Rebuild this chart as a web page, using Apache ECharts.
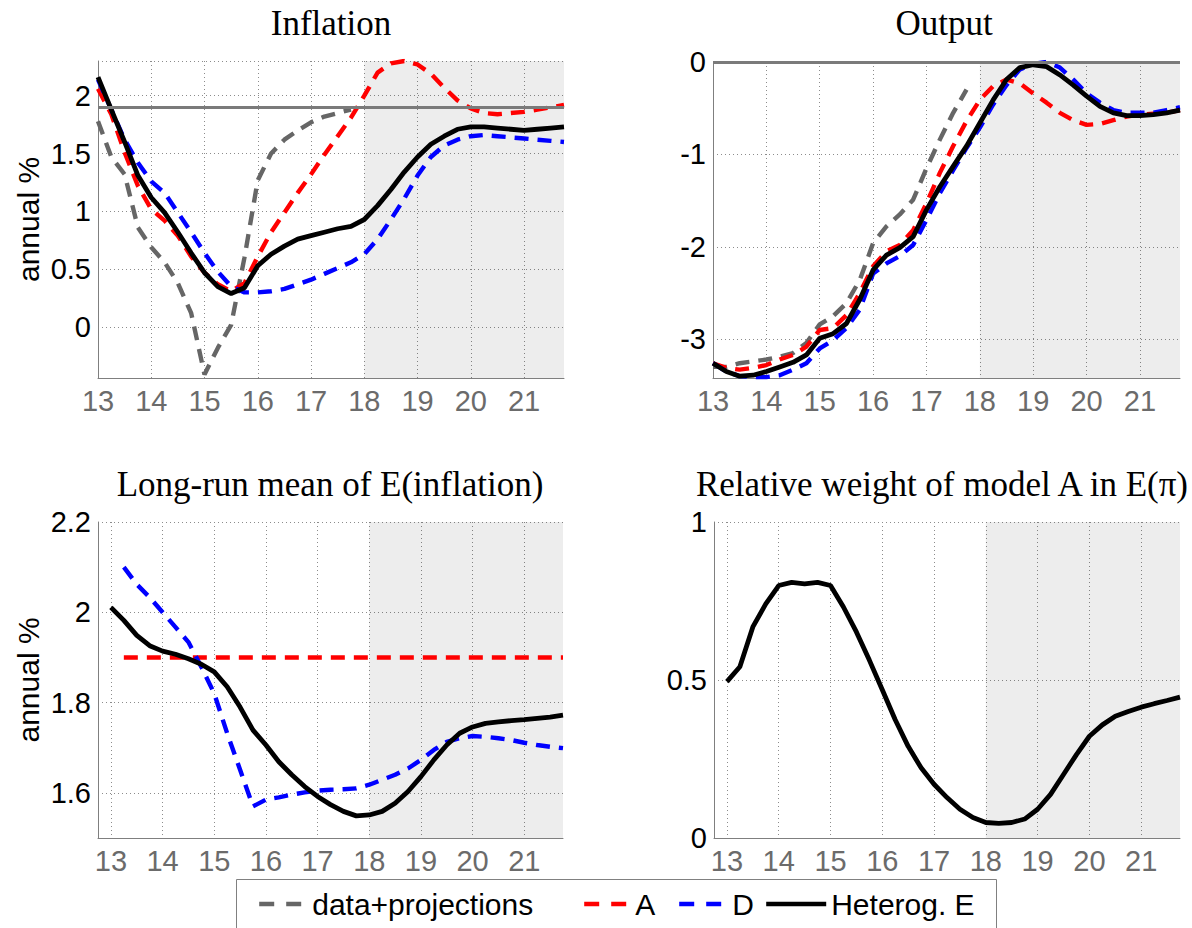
<!DOCTYPE html>
<html>
<head>
<meta charset="utf-8">
<script src="https://cdn.jsdelivr.net/npm/echarts@6/dist/echarts.min.js"></script>
<style>
html, body { margin: 0; padding: 0; background: #fff; }
#main { width: 1192px; height: 928px; }
</style>
</head>
<body>
<div id="main"></div>
<script>
// quarterly x positions (20xx years)
const quarters = [13, 13.25, 13.5, 13.75, 14, 14.25, 14.5, 14.75, 15, 15.25, 15.5, 15.75,
    16, 16.25, 16.5, 16.75, 17, 17.25, 17.5, 17.75, 18, 18.25, 18.5, 18.75,
    19, 19.25, 19.5, 19.75, 20, 20.25, 20.5, 20.75, 21, 21.25, 21.5, 21.75];
const yearTicks = [13, 14, 15, 16, 17, 18, 19, 20, 21];

// Inflation
const inflData = [1.78, 1.47, 1.32, 0.86, 0.69, 0.56, 0.38, 0.12, -0.41, -0.18, 0.02, 0.6,
    1.27, 1.5, 1.62, 1.7, 1.77, 1.82, 1.85, 1.88];
const inflA = [2.06, 1.84, 1.51, 1.22, 1.02, 0.92, 0.79, 0.61, 0.47, 0.37, 0.31, 0.38,
    0.61, 0.82, 0.99, 1.16, 1.32, 1.49, 1.65, 1.81, 2.0, 2.2, 2.28, 2.3,
    2.27, 2.19, 2.07, 1.96, 1.89, 1.85, 1.84, 1.85, 1.86, 1.88, 1.9, 1.92];
const inflD = [2.14, 1.88, 1.62, 1.42, 1.26, 1.16, 0.99, 0.82, 0.64, 0.48, 0.35, 0.3,
    0.3, 0.31, 0.33, 0.37, 0.41, 0.46, 0.51, 0.56, 0.63, 0.76, 0.93, 1.11,
    1.31, 1.47, 1.57, 1.62, 1.65, 1.66, 1.65, 1.64, 1.63, 1.62, 1.61, 1.6];
const inflE = [2.16, 1.88, 1.6, 1.31, 1.12, 0.99, 0.82, 0.64, 0.47, 0.35, 0.29, 0.34,
    0.53, 0.63, 0.7, 0.76, 0.79, 0.82, 0.85, 0.87, 0.93, 1.05, 1.19, 1.34,
    1.47, 1.58, 1.65, 1.71, 1.73, 1.73, 1.72, 1.71, 1.7, 1.71, 1.72, 1.73];
const inflTarget = 1.9;
const inflTicks = [0, 0.5, 1, 1.5, 2];

// Output
const outData = [-3.3, -3.3, -3.26, -3.24, -3.22, -3.19, -3.15, -3.04, -2.84, -2.75, -2.61, -2.36,
    -1.96, -1.78, -1.65, -1.49, -1.15, -0.84, -0.55, -0.3];
const outA = [-3.26, -3.31, -3.33, -3.31, -3.28, -3.22, -3.17, -3.08, -2.9, -2.88, -2.74, -2.5,
    -2.21, -2.05, -1.98, -1.82, -1.53, -1.2, -0.91, -0.64, -0.41, -0.26, -0.19, -0.23,
    -0.34, -0.44, -0.55, -0.63, -0.68, -0.67, -0.63, -0.59, -0.57, -0.56, -0.55, -0.52];
const outD = [-3.26, -3.35, -3.4, -3.41, -3.41, -3.39, -3.33, -3.26, -3.1, -3.01, -2.88, -2.68,
    -2.29, -2.18, -2.1, -1.98, -1.71, -1.42, -1.17, -0.93, -0.71, -0.46, -0.25, -0.08,
    -0.02, 0.0, -0.06, -0.19, -0.34, -0.44, -0.52, -0.55, -0.55, -0.55, -0.52, -0.49];
const outE = [-3.26, -3.35, -3.4, -3.39, -3.35, -3.3, -3.25, -3.17, -2.99, -2.94, -2.83, -2.57,
    -2.25, -2.09, -2.01, -1.89, -1.6, -1.35, -1.13, -0.91, -0.66, -0.41, -0.19, -0.06,
    -0.03, -0.05, -0.14, -0.25, -0.37, -0.48, -0.55, -0.58, -0.58, -0.57, -0.55, -0.52];
const outTicks = [-3, -2, -1, 0];

// Long-run mean of E(inflation)
const lrA = [null, 1.9, 1.9, 1.9, 1.9, 1.9, 1.9, 1.9, 1.9, 1.9, 1.9, 1.9,
    1.9, 1.9, 1.9, 1.9, 1.9, 1.9, 1.9, 1.9, 1.9, 1.9, 1.9, 1.9,
    1.9, 1.9, 1.9, 1.9, 1.9, 1.9, 1.9, 1.9, 1.9, 1.9, 1.9, 1.9];
const lrD = [null, 2.1, 2.062, 2.033, 2.0, 1.967, 1.934, 1.879, 1.82, 1.732, 1.651, 1.57,
    1.585, 1.59, 1.596, 1.601, 1.605, 1.607, 1.608, 1.61, 1.618, 1.629, 1.64, 1.654,
    1.673, 1.695, 1.713, 1.721, 1.726, 1.724, 1.721, 1.717, 1.711, 1.706, 1.702, 1.699];
const lrE = [2.011, 1.982, 1.949, 1.926, 1.914, 1.907, 1.897, 1.885, 1.868, 1.835, 1.79, 1.739,
    1.706, 1.669, 1.64, 1.614, 1.592, 1.574, 1.559, 1.549, 1.551, 1.559, 1.577, 1.603,
    1.636, 1.673, 1.706, 1.732, 1.746, 1.754, 1.757, 1.76, 1.762, 1.765, 1.768, 1.772];
const lrTicks = [1.6, 1.8, 2, 2.2];

// Relative weight of model A
const weightE = [0.495, 0.542, 0.668, 0.741, 0.799, 0.809, 0.804, 0.809, 0.799, 0.731, 0.652, 0.563,
    0.469, 0.374, 0.29, 0.222, 0.17, 0.128, 0.091, 0.065, 0.049, 0.046, 0.049, 0.06,
    0.091, 0.138, 0.201, 0.264, 0.322, 0.358, 0.385, 0.4, 0.414, 0.425, 0.435, 0.446];
const weightTicks = [0, 0.5, 1];

const shadeFrom = 18;
const lastQ = 21.75;

const sans = "'Liberation Sans', Arial, sans-serif";
const serif = "'Liberation Serif', 'Times New Roman', serif";
const gridLine = { show: true, lineStyle: { color: '#8c8c8c', width: 1, type: [1, 3] } };
const dash = [14, 9];

function pairs(vals) {
    return vals.map((v, i) => [quarters[i], v]);
}

function xAxis(i, min) {
    return {
        type: 'value', gridIndex: i, min: min, max: lastQ,
        axisLine: { show: true, onZero: false, lineStyle: { color: '#7f7f7f', width: 1 } },
        axisTick: { show: false, customValues: yearTicks },
        axisLabel: { customValues: yearTicks, color: '#6b6b6b', fontSize: 29, fontFamily: sans, margin: 8 },
        splitLine: gridLine
    };
}

function yAxis(i, min, max, ticks, lines, name) {
    return {
        type: 'value', gridIndex: i, min: min, max: max,
        name: name, nameLocation: 'middle', nameGap: 55,
        nameTextStyle: { color: '#000', fontSize: 30, fontFamily: sans },
        axisLine: { show: true, onZero: false, lineStyle: { color: '#7f7f7f', width: 1 } },
        axisTick: { show: false, customValues: lines },
        axisLabel: { customValues: ticks, color: '#000', fontSize: 29, fontFamily: sans, margin: 7 },
        splitLine: gridLine
    };
}

function line(name, i, vals, color, dashed) {
    return {
        name: name, type: 'line', xAxisIndex: i, yAxisIndex: i,
        data: pairs(vals), symbol: 'none', connectNulls: false,
        lineStyle: { color: color, width: dashed ? 4.4 : 4.8, type: dashed ? dash : 'solid' },
        itemStyle: { color: color }
    };
}

const shade = {
    silent: true,
    itemStyle: { color: 'rgba(0,0,0,0.07)' },
    data: [[{ xAxis: shadeFrom }, { xAxis: lastQ }]]
};

function refLine(y) {
    return {
        silent: true, symbol: 'none', label: { show: false },
        lineStyle: { color: '#7a7a7a', width: 3, type: 'solid' },
        data: [{ yAxis: y }]
    };
}

const titleFont = { fontFamily: serif, fontSize: 35, fontWeight: 'normal', color: '#000' };

const series = [];
let s;
// panel 1
s = line('data+projections', 0, inflData, '#666666', true); s.markArea = shade; series.push(s);
series.push(line('A', 0, inflA, '#ff0000', true));
series.push(line('D', 0, inflD, '#0000ff', true));
s = line('Heterog. E', 0, inflE, '#000000', false); s.markLine = refLine(inflTarget); series.push(s);
// panel 2
s = line('data+projections', 1, outData, '#666666', true); s.markArea = shade; series.push(s);
series.push(line('A', 1, outA, '#ff0000', true));
series.push(line('D', 1, outD, '#0000ff', true));
s = line('Heterog. E', 1, outE, '#000000', false); s.markLine = refLine(0); series.push(s);
// panel 3
s = line('A', 2, lrA, '#ff0000', true); s.markArea = shade; series.push(s);
series.push(line('D', 2, lrD, '#0000ff', true));
series.push(line('Heterog. E', 2, lrE, '#000000', false));
// panel 4
s = line('Heterog. E', 3, weightE, '#000000', false); s.markArea = shade; series.push(s);

function legendItem(name, left, w, type) {
    return {
        data: [name], left: left, top: 889, padding: 0, selectedMode: false,
        itemWidth: w, itemHeight: 14,
        textStyle: { color: '#000', fontSize: 30, fontFamily: sans },
        itemStyle: { color: 'rgba(0,0,0,0)', borderWidth: 0, opacity: 0 },
        lineStyle: { width: 4.4, type: type }
    };
}

const chartDom = document.getElementById('main');
const myChart = echarts.init(chartDom, null, { renderer: 'svg' });
const option = {
    animation: false,
    backgroundColor: '#fff',
    title: [
        { text: 'Inflation', left: 331, top: 6, textAlign: 'center', padding: 0, textStyle: titleFont },
        { text: 'Output', left: 944, top: 6, textAlign: 'center', padding: 0, textStyle: titleFont },
        { text: 'Long-run mean of E(inflation)', left: 330, top: 467, textAlign: 'center', padding: 0, textStyle: titleFont },
        { text: 'Relative weight of model A in E(π)', left: 942, top: 467, textAlign: 'center', padding: 0, textStyle: titleFont }
    ],
    grid: [
        { left: 98, top: 61, width: 466, height: 317 },
        { left: 713, top: 62, width: 467, height: 316 },
        { left: 98, top: 522, width: 465, height: 316 },
        { left: 714, top: 522, width: 466, height: 316 }
    ],
    xAxis: [xAxis(0, 13), xAxis(1, 13), xAxis(2, 12.75), xAxis(3, 12.75)],
    yAxis: [
        yAxis(0, -0.44, 2.3, inflTicks, inflTicks.concat([2.3]), 'annual %'),
        yAxis(1, -3.42, 0, outTicks, outTicks),
        yAxis(2, 1.5, 2.2, lrTicks, lrTicks, 'annual %'),
        yAxis(3, 0, 1, weightTicks, weightTicks)
    ],
    legend: [
        legendItem('data+projections', 257, 48, [15, 12]),
        legendItem('A', 582, 46, [15, 12]),
        legendItem('D', 677, 48, [15, 12]),
        legendItem('Heterog. E', 764, 60, 'solid')
    ],
    graphic: [{
        type: 'rect', left: 236, top: 879, z: 1,
        shape: { width: 760, height: 70 },
        style: { fill: '#fff', stroke: '#808080', lineWidth: 1 }
    }],
    series: series
};
myChart.setOption(option);
</script>
</body>
</html>
